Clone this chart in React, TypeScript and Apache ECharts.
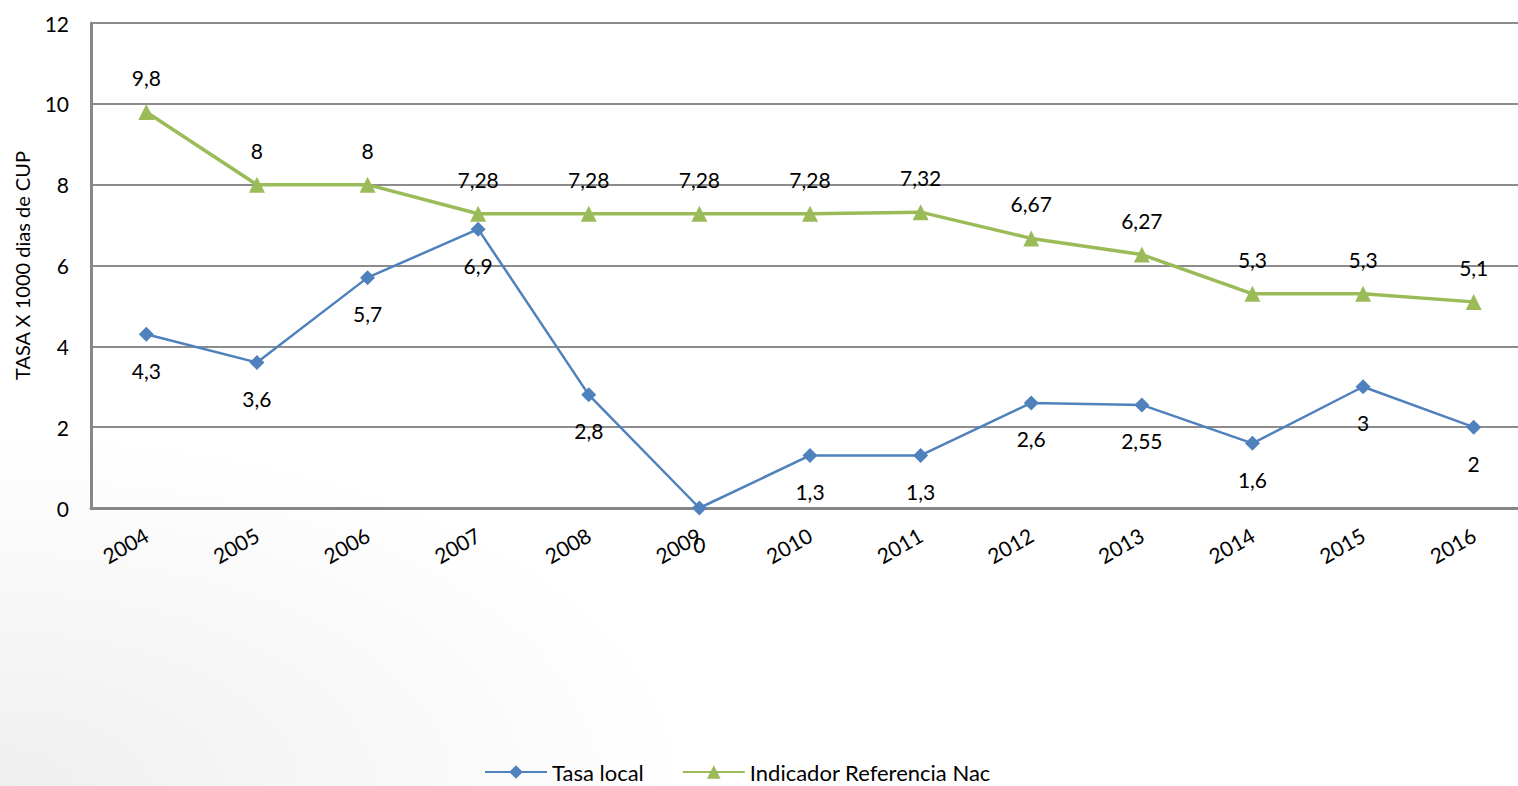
import React, { useEffect, useRef } from "react";
import * as echarts from "echarts";

const years = ["2004", "2005", "2006", "2007", "2008", "2009", "2010", "2011", "2012", "2013", "2014", "2015", "2016"];
const tasaLocal = [4.3, 3.6, 5.7, 6.9, 2.8, 0, 1.3, 1.3, 2.6, 2.55, 1.6, 3, 2];
const indicadorNac = [9.8, 8, 8, 7.28, 7.28, 7.28, 7.28, 7.32, 6.67, 6.27, 5.3, 5.3, 5.1];
const yTicks = [0, 2, 4, 6, 8, 10, 12];

const FONT = "Lato, 'Open Sans', sans-serif";
const fmt = (p: any) => String(p.value).replace(".", ",");

export default function App() {
  const ref = useRef<HTMLDivElement>(null);
  useEffect(() => {
    if (!ref.current) return;
    const chart = echarts.init(ref.current, null, { renderer: "svg" });
    chart.setOption({
      animation: false,
      backgroundColor: "#ffffff",
      textStyle: { fontFamily: FONT },
      graphic: [
        {
          type: "rect",
          z: -10,
          silent: true,
          shape: { x: 0, y: 0, width: 1530, height: 786 },
          style: {
            fill: new echarts.graphic.RadialGradient(0, 1, 0.45, [
              { offset: 0, color: "#efefef" },
              { offset: 1, color: "#ffffff" },
            ]),
          },
        },
      ],
      grid: { left: 91, top: 23, right: 1, bottom: 278, containLabel: false },
      legend: {
        top: 761,
        left: 484,
        padding: 0,
        itemWidth: 62,
        itemHeight: 17,
        itemGap: 38,
        textStyle: { fontSize: 22, lineHeight: 22, color: "#000", fontFamily: FONT },
        data: ["Tasa local", "Indicador Referencia Nac"],
      },
      xAxis: {
        type: "category",
        data: years,
        boundaryGap: true,
        axisLine: { lineStyle: { color: "#868686", width: 3 } },
        axisTick: { show: false },
        axisLabel: { rotate: 30, fontSize: 21, color: "#000", margin: 25, fontFamily: FONT },
        splitLine: { show: false },
      },
      yAxis: {
        type: "value",
        min: yTicks[0],
        max: yTicks[yTicks.length - 1],
        interval: 2,
        name: "TASA X 1000 dias de CUP",
        nameLocation: "middle",
        nameGap: 59,
        nameTextStyle: { fontSize: 20, color: "#000", fontFamily: FONT },
        axisLine: { show: true, lineStyle: { color: "#868686", width: 3 } },
        axisTick: { show: false },
        axisLabel: { fontSize: 21, color: "#000", margin: 22, fontFamily: FONT },
        splitLine: { lineStyle: { color: "#8c8c8c", width: 2 } },
      },
      series: [
        {
          name: "Tasa local",
          type: "line",
          data: tasaLocal,
          symbol: "diamond",
          symbolSize: 15,
          itemStyle: { color: "#4F81BD" },
          lineStyle: { color: "#4F81BD", width: 2.5 },
          label: { show: true, position: "bottom", distance: 18, fontSize: 21, color: "#000", formatter: fmt, fontFamily: FONT },
          z: 3,
        },
        {
          name: "Indicador Referencia Nac",
          type: "line",
          data: indicadorNac,
          symbol: "triangle",
          symbolSize: 16,
          itemStyle: { color: "#9BBB59" },
          lineStyle: { color: "#9BBB59", width: 3.5 },
          label: { show: true, position: "top", distance: 16, fontSize: 21, color: "#000", formatter: fmt, fontFamily: FONT },
          z: 2,
        },
      ],
    });
    return () => chart.dispose();
  }, []);
  return (
    <div style={{ position: "fixed", left: 0, top: 0, width: 1518, height: 786, overflow: "hidden" }}>
      <div ref={ref} style={{ position: "absolute", left: 0, top: 0, width: 1530, height: 786 }} />
    </div>
  );
}
